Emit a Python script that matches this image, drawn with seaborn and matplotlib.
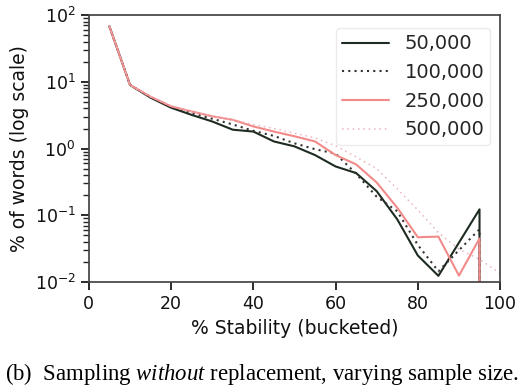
import numpy as np
import pandas as pd
import seaborn as sns
import matplotlib
matplotlib.use("Agg")
import matplotlib.pyplot as plt

stability = [5, 10, 15, 20, 25, 30, 35, 40, 45, 50, 55, 60, 65, 70, 75, 80, 85, 90, 95, 100]
s50k = [68, 9.0, 5.8, 4.1, 3.2, 2.55, 1.92, 1.8, 1.28, 1.08, 0.8, 0.54, 0.43, 0.23, 0.087, 0.025, 0.0124, 0.039, 0.123, 0]
s100k = [68, 9.0, 5.9, 4.2, 3.4, 2.8, 2.3, 1.85, 1.55, 1.2, 0.98, 0.84, 0.42, 0.19, 0.115, 0.036, 0.0145, 0.03, 0.062, 0]
s250k = [68, 9.0, 6.0, 4.3, 3.6, 3.05, 2.7, 2.15, 1.8, 1.53, 1.28, 0.8, 0.58, 0.31, 0.13, 0.047, 0.048, 0.0125, 0.045, 0]
s500k = [68, 9.0, 6.0, 4.4, 3.6, 3.1, 2.7, 2.3, 2.0, 1.7, 1.45, 1.1, 0.75, 0.5, 0.25, 0.12, 0.055, 0.031, 0.022, 0.0135]
labels = ["50,000", "100,000", "250,000", "500,000"]
series = [s50k, s100k, s250k, s500k]

rows = []
for lab, vals in zip(labels, series):
    for xv, yv in zip(stability, vals):
        rows.append({"x": xv, "y": yv, "size": lab})
df = pd.DataFrame(rows)

sns.set_theme(style="ticks")
plt.rcParams["font.family"] = ["DejaVu Sans"]
plt.rcParams["mathtext.fontset"] = "custom"
plt.rcParams["mathtext.rm"] = "Liberation Serif"
plt.rcParams["mathtext.it"] = "Liberation Serif:italic"

fig = plt.figure(figsize=(5.32, 3.88), dpi=100)
ax = fig.add_axes([0.167, 0.273, 0.773, 0.688])

palette = {"50,000": "#1e2b20", "100,000": "#333333", "250,000": "#f28a8a", "500,000": "#e9b4bb"}
dashes = {"50,000": "", "100,000": (1, 2), "250,000": "", "500,000": (1, 2.5)}
sns.lineplot(data=df, x="x", y="y", hue="size", style="size", palette=palette,
             dashes=dashes, hue_order=labels, style_order=labels,
             errorbar=None, linewidth=1.5, ax=ax, sort=True)
for ln in ax.get_lines()[3:4]:
    ln.set_linewidth(1.1)
ax.set_yscale("log")
ax.set_xlim(0, 100)
ax.set_ylim(1e-2, 1e2)
ax.set_xticks([0, 20, 40, 60, 80, 100])
ax.tick_params(labelsize=12.5, colors="#111111")
ax.set_xlabel("% Stability (bucketed)", fontsize=13.5, color="#111111")
ax.set_ylabel("% of words (log scale)", fontsize=13.5, color="#111111")
for sp in ax.spines.values():
    sp.set_visible(True)
    sp.set_color("#444444")

leg = ax.legend(loc="upper right", bbox_to_anchor=(0.976, 0.95), borderaxespad=0,
                fontsize=14, frameon=True, handlelength=2.4, borderpad=0.3)
leg.get_frame().set_edgecolor("#e6e6e6")
for line in leg.get_lines():
    line.set_linewidth(1.5)
leg.get_lines()[3].set_linewidth(1.1)

fig.text(0.493, 0.035, r"(b)  Sampling $\it{without}$ replacement, varying sample size.",
         ha="center", va="center", fontsize=16.4, family="Liberation Serif", color="black")

fig.savefig("out.png", dpi=100)
